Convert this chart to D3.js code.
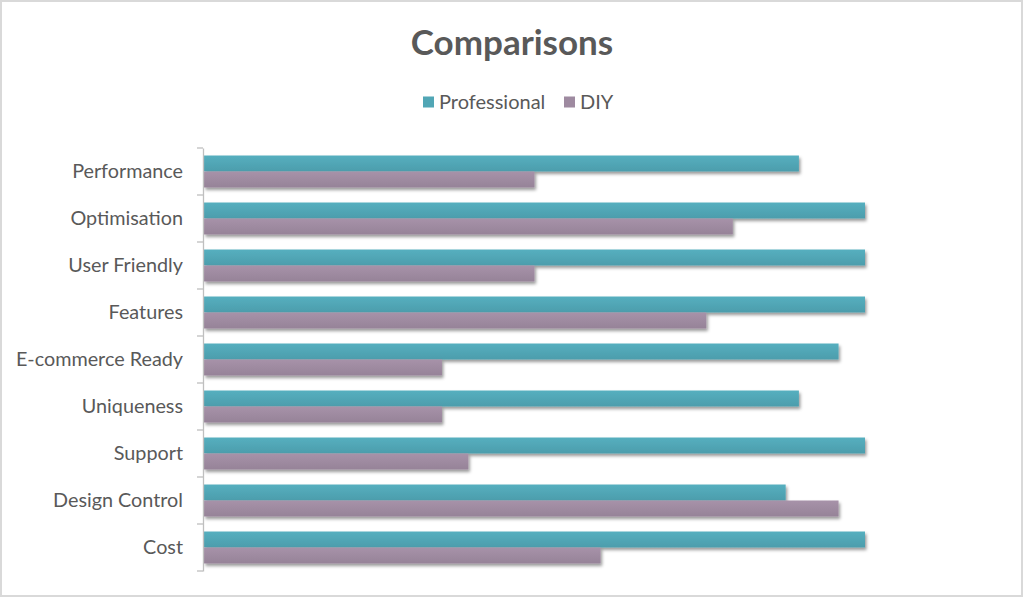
<!DOCTYPE html>
<html>
<head>
<meta charset="utf-8">
<script src="https://cdn.jsdelivr.net/npm/d3@7"></script>
<style>
  body { margin: 0; background: #fff; }
  svg { display: block; }
</style>
</head>
<body>
<div id="chart"></div>
<script>
// Comparisons chart, professional vs DIY
var categories = ['Performance', 'Optimisation', 'User Friendly', 'Features',
  'E-commerce Ready', 'Uniqueness', 'Support', 'Design Control', 'Cost'];
var professional = [9, 10, 10, 10, 9.6, 9, 10, 8.8, 10];
var diy = [5, 8, 5, 7.6, 3.6, 3.6, 4, 9.6, 6];
var seriesNames = ['Professional', 'DIY'];

var seriesColor = {
  'Professional' : '#51a6b5',
  'DIY' : '#9e8aa0'
}

var width = 1024, height = 598;
var margin = {top: 148, right: 159, bottom: 27, left: 204};
var innerW = width - margin.left - margin.right,
    innerH = height - margin.top - margin.bottom;

var fontFam = 'Lato, "Open Sans", sans-serif';

var svg = d3.select('#chart').append('svg')
    .attr('width', width)
    .attr('height', height);

var defs = svg.append('defs');
var f = defs.append('filter').attr('id', 'shadow')
    .attr('x', '-5%').attr('y', '-30%').attr('width', '110%').attr('height', '190%');
f.append('feDropShadow').attr('dx', 1.5).attr('dy', 2.5).attr('stdDeviation', 1.8)
    .attr('flood-color', '#000').attr('flood-opacity', 0.4);

seriesNames.forEach(function(s, i){
  var c = d3.color(seriesColor[s]);
  var gr = defs.append('linearGradient').attr('id', 'grad' + i)
      .attr('x1', 0).attr('y1', 0).attr('x2', 0).attr('y2', 1);
  gr.append('stop').attr('offset', '0%').attr('stop-color', c.brighter(0.15));
  gr.append('stop').attr('offset', '100%').attr('stop-color', c.darker(0.15));
});

// border
svg.append('rect')
    .attr('x', 1).attr('y', 1)
    .attr('width', width - 3).attr('height', height - 3)
    .attr('fill', 'none')
    .attr('stroke', '#d9d9d9')
    .attr('stroke-width', 2);

svg.append('text')
    .attr('x', width / 2)
    .attr('y', 55)
    .attr('text-anchor', 'middle')
    .attr('font-family', fontFam)
    .attr('font-weight', 'bold')
    .attr('font-size', 35)
    .attr('fill', '#595959')
    .text('Comparisons');

var g = svg.append('g').attr('transform', 'translate(' + margin.left + ',' + margin.top + ')');

var y0 = d3.scaleBand()
    .domain(categories)
    .range([0, innerH]);

var y1 = d3.scaleBand()
    .domain(seriesNames)
    .range([0, y0.bandwidth()])
    .paddingOuter(0.47)
    .paddingInner(0);

var x = d3.scaleLinear()
    .domain([0, 10])
    .range([0, 661]);

var rows = categories.map(function(c, i){
  return {cat: c, values: [
    {key: 'Professional', value: professional[i], idx: 0},
    {key: 'DIY', value: diy[i], idx: 1}
  ]};
});

g.append('g')
  .selectAll('g')
  .data(rows)
  .enter().append('g')
    .attr('transform', function(d) { return 'translate(0,' + y0(d.cat) + ')'; })
  .selectAll('rect')
  .data(function(d) { return d.values; })
  .enter().append('rect')
    .attr('x', 0)
    .attr('y', function(d) { return y1(d.key); })
    .attr('height', y1.bandwidth())
    .attr('width', function(d) { return x(d.value); })
    .attr('fill', function(d) { return 'url(#grad' + d.idx + ')'; })
    .attr('filter', 'url(#shadow)');

var axis = g.append('g')
    .attr('transform', 'translate(-1,0)')
    .call(d3.axisLeft(y0).tickSize(0).tickPadding(20));
axis.select('.domain').attr('stroke', '#bfbfbf').attr('stroke-width', 1.3);
axis.selectAll('text')
    .attr('font-family', fontFam)
    .attr('font-size', 19.8)
    .attr('fill', '#595959');

// tick marks on band boundaries
var bounds = categories.map(function(c) { return y0(c); }).concat([innerH]);
g.append('g')
  .selectAll('line')
  .data(bounds)
  .enter().append('line')
    .attr('x1', -7).attr('x2', -1)
    .attr('y1', function(d) { return d; })
    .attr('y2', function(d) { return d; })
    .attr('stroke', '#bfbfbf')
    .attr('stroke-width', 1.3);

// legend
var legendX = [423, 564];
var legend = svg.append('g')
    .attr('font-family', fontFam)
    .attr('font-size', 20)
    .selectAll('g')
    .data(seriesNames)
    .enter().append('g')
    .attr('transform', function(d, i) { return 'translate(' + legendX[i] + ',102)'; });

legend.append('rect')
    .attr('x', 0)
    .attr('y', -5.5)
    .attr('width', 11)
    .attr('height', 11)
    .attr('fill', function(d) { return seriesColor[d]; });

legend.append('text')
    .attr('x', 16)
    .attr('dy', '0.35em')
    .attr('fill', '#595959')
    .text(function(d) { return d; });
</script>
</body>
</html>
